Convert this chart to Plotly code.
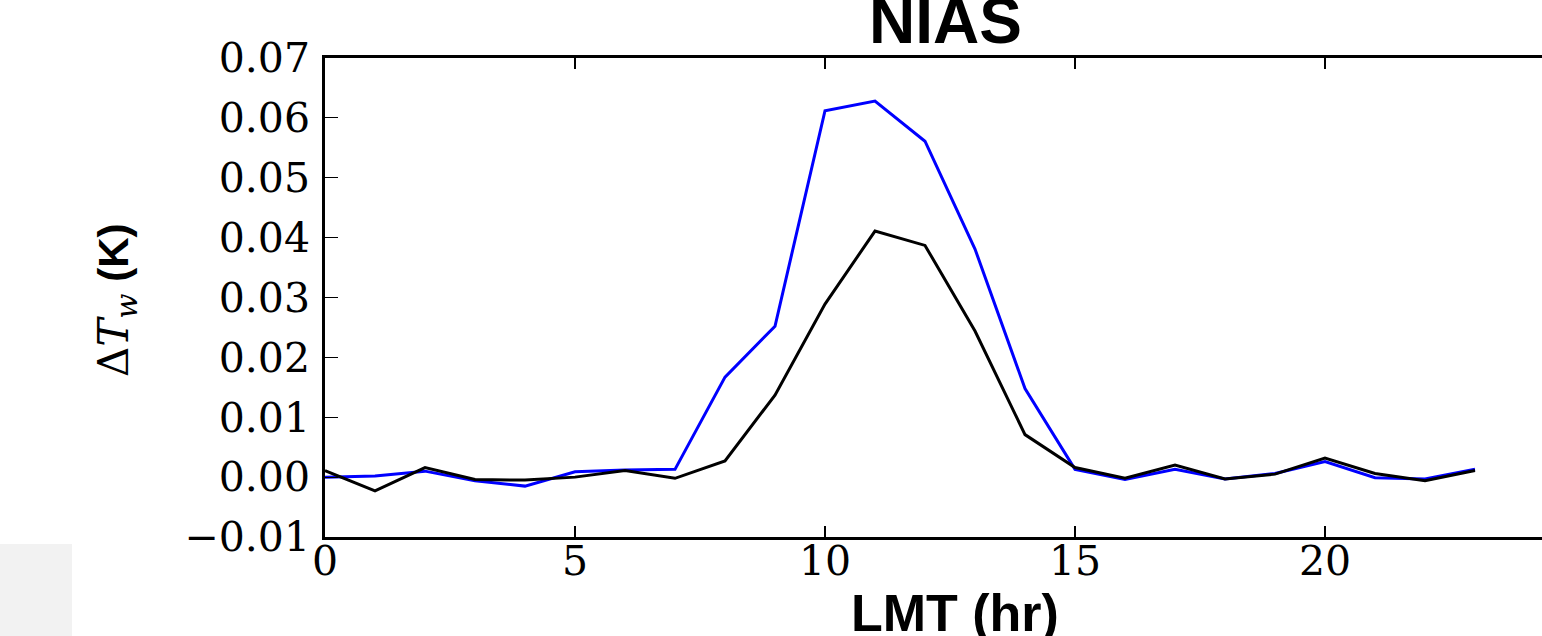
import plotly.graph_objects as go

hours = list(range(24))
blue_vals = [0.0000, 0.0002, 0.0010, -0.0006, -0.0015, 0.0009, 0.0012, 0.0013,
             0.0167, 0.0252, 0.0612, 0.0628, 0.0561, 0.0381, 0.0148, 0.0013,
             -0.0004, 0.0013, -0.0003, 0.0006, 0.0026, -0.0001, -0.0003, 0.0013]
black_vals = [0.0011, -0.0023, 0.0016, -0.0004, -0.0005, 0.0000, 0.0011, -0.0002,
              0.0027, 0.0137, 0.0289, 0.0411, 0.0387, 0.0244, 0.0071, 0.0016,
              -0.0002, 0.0020, -0.0003, 0.0005, 0.0032, 0.0006, -0.0006, 0.0011]

y_tickvals = [-0.01, 0.0, 0.01, 0.02, 0.03, 0.04, 0.05, 0.06, 0.07]
y_ticktext = ["\u22120.01", "0.00", "0.01", "0.02", "0.03", "0.04", "0.05", "0.06", "0.07"]
x_tickvals = [0, 5, 10, 15, 20]
x_ticktext = ["0", "5", "10", "15", "20"]

title_text = "NIAS"
x_label = "LMT (hr)"
y_label = ('<span style="font-family:DejaVu Serif">\u0394<i>T</i><sub><i>w</i></sub></span>'
           ' <b>(K)</b>')

fig = go.Figure()
fig.add_trace(go.Scatter(x=hours, y=blue_vals, mode="lines",
                         line=dict(color="#0000ff", width=3), showlegend=False))
fig.add_trace(go.Scatter(x=hours, y=black_vals, mode="lines",
                         line=dict(color="#000000", width=3), showlegend=False))

W, H = 1542, 636
L, R, T, B = 325, 0, 58, 99
pw, ph = W - L - R, H - T - B

def px_x(p):
    return (p - L) / pw

def px_y(p):
    return (H - B - p) / ph

fig.update_layout(
    width=W, height=H,
    margin=dict(l=L, r=R, t=T, b=B, pad=0),
    paper_bgcolor="white", plot_bgcolor="white",
    font=dict(family="Liberation Sans, Arial", color="black"),
    xaxis=dict(range=[0, pw / 50.0], showgrid=False, zeroline=False,
               showline=True, linecolor="black", linewidth=2.5, mirror="ticks",
               ticks="inside", ticklen=11, tickwidth=1.5, tickcolor="black",
               tickvals=x_tickvals, ticktext=x_ticktext,
               tickfont=dict(family="DejaVu Serif", size=41, color="black"),
               ticklabelstandoff=-14),
    yaxis=dict(range=[-0.01, 0.07], showgrid=False, zeroline=False,
               showline=True, linecolor="black", linewidth=2.5, mirror=False,
               ticks="inside", ticklen=13, tickwidth=1.2, tickcolor="black",
               tickvals=y_tickvals, ticktext=y_ticktext,
               tickfont=dict(family="DejaVu Serif", size=41, color="black"),
               ticklabelstandoff=4),
    shapes=[dict(type="rect", xref="paper", yref="paper",
                 x0=px_x(0), x1=px_x(72), y0=px_y(636), y1=px_y(544),
                 fillcolor="#f2f2f2", line=dict(width=0), layer="below")],
    annotations=[
        dict(text=title_text, xref="x", yref="paper", x=12.4, y=px_y(21),
             xanchor="center", yanchor="middle", showarrow=False,
             font=dict(family="Liberation Sans, Arial", size=64, color="black", weight="bold")),
        dict(text=x_label, xref="x", yref="paper", x=12.6, y=px_y(613),
             xanchor="center", yanchor="middle", showarrow=False,
             font=dict(family="Liberation Sans, Arial", size=52, color="black", weight="bold")),
        dict(text=y_label, xref="paper", yref="paper", x=px_x(116), y=px_y(300),
             xanchor="center", yanchor="middle", showarrow=False, textangle=-90,
             font=dict(family="Liberation Sans, Arial", size=42, color="black")),
    ],
)

fig.write_html("out.html",
               config={"displayModeBar": False},
               post_script="document.body.style.margin='0';document.body.style.overflow='hidden';")
